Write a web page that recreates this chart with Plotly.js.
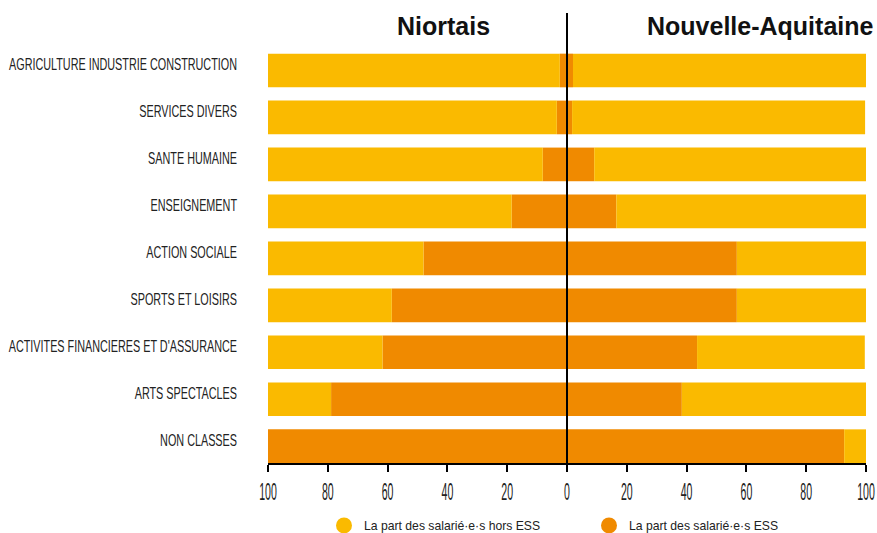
<!DOCTYPE html>
<html>
<head>
<meta charset="utf-8">
<script src="https://cdn.plot.ly/plotly-3.0.1.min.js"></script>
<style>html,body{margin:0;padding:0;background:#fff;}#chart{width:877px;height:533px;}</style>
</head>
<body>
<div id="chart"></div>
<script>
const categories = ["AGRICULTURE INDUSTRIE CONSTRUCTION","SERVICES DIVERS","SANTE HUMAINE","ENSEIGNEMENT","ACTION SOCIALE","SPORTS ET LOISIRS","ACTIVITES FINANCIERES ET D'ASSURANCE","ARTS SPECTACLES","NON CLASSES"];
const niortEss  = [2.4, 3.4, 8.1, 18.5, 48.0, 58.6, 61.7, 78.9, 100];
const niortHors = [97.6, 96.6, 91.9, 81.5, 52.0, 41.4, 38.3, 21.1, 0];
const naEss     = [2.0, 1.7, 9.1, 16.5, 56.8, 56.8, 43.5, 38.4, 92.7];
const naHors    = [98.0, 98.0, 90.9, 83.5, 43.2, 43.2, 56.1, 61.6, 7.3];
const tickVals  = [-100,-80,-60,-40,-20,0,20,40,60,80,100];
const tickText  = ["100","80","60","40","20","0","20","40","60","80","100"];
const legendNames = ["La part des salarié·e·s hors ESS","La part des salarié·e·s ESS"];
const sideTitles = ["Niortais","Nouvelle-Aquitaine"];

const cLight = "#FABA00", cDark = "#F08A00";
const neg = a => a.map(v => -v);
const bar = (x, color) => ({type:"bar", orientation:"h", y:categories, x:x, marker:{color:color, line:{width:0}}, showlegend:false, hoverinfo:"skip"});

const data = [
  bar(neg(niortEss), cDark),
  bar(neg(niortHors), cLight),
  bar(naEss, cDark),
  bar(naHors, cLight),
  {type:"scatter", mode:"markers", x:[null], y:[null], name:legendNames[0], marker:{symbol:"circle", size:17, color:cLight}, legend:"legend"},
  {type:"scatter", mode:"markers", x:[null], y:[null], name:legendNames[1], marker:{symbol:"circle", size:17, color:cDark}, legend:"legend2"}
];

const font = "'Liberation Sans', Arial, sans-serif";
const legFont = {family:font, size:12.2, color:"#222"};
const layout = {
  width:877, height:533,
  margin:{l:268, r:11, t:47, b:70, pad:0, autoexpand:false},
  paper_bgcolor:"#fff", plot_bgcolor:"#fff",
  barmode:"relative", bargap:0.283,
  font:{family:font, color:"#222", size:13},
  xaxis:{range:[-100,100], tickvals:tickVals, ticktext:tickText, ticks:"outside", ticklen:7, tickwidth:2, tickcolor:"#000",
         showline:true, linecolor:"#000", linewidth:2, showgrid:false, zeroline:false, fixedrange:true, automargin:false,
         ticklabeloverflow:"allow", tickfont:{family:font, size:23, color:"#222"}},
  yaxis:{type:"category", range:[8.358,-0.5], showgrid:false, zeroline:false, ticks:"", ticklen:0, showline:false, fixedrange:true, automargin:false,
         ticklabeloverflow:"allow", ticklabelstandoff:30, ticklabelshift:6, tickfont:{family:font, size:16.5, color:"#222"}},
  showlegend:true,
  legend:{x:(349-25-268)/598, xanchor:"left", y:-0.15, yanchor:"middle", font:legFont, bgcolor:"rgba(0,0,0,0)"},
  legend2:{x:(614-25-268)/598, xanchor:"left", y:-0.15, yanchor:"middle", font:legFont, bgcolor:"rgba(0,0,0,0)"},
  shapes:[{type:"line", xref:"x", yref:"paper", x0:0, x1:0, y0:0, y1:1.082, line:{color:"#000", width:2}}],
  annotations:[
    {text:sideTitles[0], xref:"x", yref:"paper", x:-41.3, y:1.05, xanchor:"center", yanchor:"middle", showarrow:false, font:{family:font, size:25, color:"#111", weight:"bold"}},
    {text:sideTitles[1], xref:"paper", yref:"paper", x:1.016, y:1.05, xanchor:"right", yanchor:"middle", showarrow:false, font:{family:font, size:25, color:"#111", weight:"bold"}}
  ]
};

function condense(root, sel, k){
  root.querySelectorAll(sel).forEach(t => {
    if (t.getAttribute("data-cond")) return;
    const L = t.getComputedTextLength();
    if (L > 0) {
      t.setAttribute("textLength", (L*k).toFixed(2));
      t.setAttribute("lengthAdjust", "spacingAndGlyphs");
      t.setAttribute("data-cond", "1");
    }
  });
}
function condenseAll(gd){
  condense(gd, ".ytick text", 0.655);
  condense(gd, ".xtick text", 0.46);
}
Plotly.newPlot("chart", data, layout, {displayModeBar:false, staticPlot:true}).then(gd => {
  condenseAll(gd);
  requestAnimationFrame(() => condenseAll(gd));
});
</script>
</body>
</html>
